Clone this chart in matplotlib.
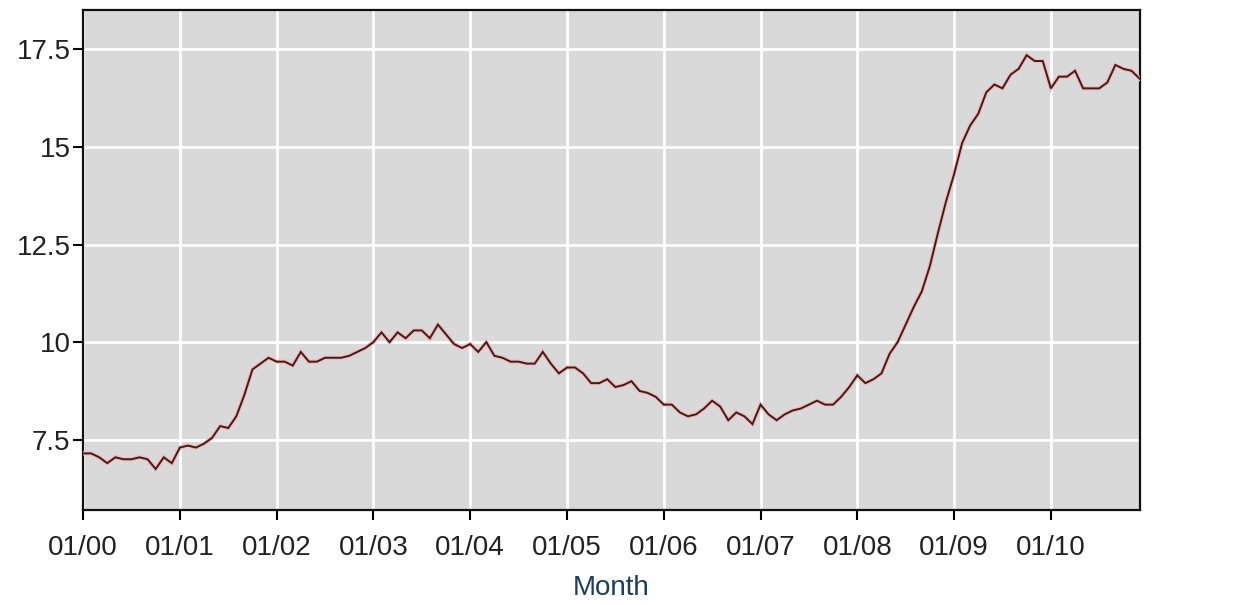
import matplotlib
matplotlib.use("Agg")
import matplotlib.pyplot as plt

# monthly rate, Jan 2000 .. Dec 2010
y2000 = [7.15, 7.15, 7.05, 6.9, 7.05, 7.0, 7.0, 7.05, 7.0, 6.75, 7.05, 6.9]
y2001 = [7.3, 7.35, 7.3, 7.4, 7.55, 7.85, 7.8, 8.1, 8.65, 9.3, 9.45, 9.6]
y2002 = [9.5, 9.5, 9.4, 9.75, 9.5, 9.5, 9.6, 9.6, 9.6, 9.65, 9.75, 9.85]
y2003 = [10.0, 10.25, 10.0, 10.25, 10.1, 10.3, 10.3, 10.1, 10.45, 10.2, 9.95, 9.85]
y2004 = [9.95, 9.75, 10.0, 9.65, 9.6, 9.5, 9.5, 9.45, 9.45, 9.75, 9.45, 9.2]
y2005 = [9.35, 9.35, 9.2, 8.95, 8.95, 9.05, 8.85, 8.9, 9.0, 8.75, 8.7, 8.6]
y2006 = [8.4, 8.4, 8.2, 8.1, 8.15, 8.3, 8.5, 8.35, 8.0, 8.2, 8.1, 7.9]
y2007 = [8.4, 8.15, 8.0, 8.15, 8.25, 8.3, 8.4, 8.5, 8.4, 8.4, 8.6, 8.85]
y2008 = [9.15, 8.95, 9.05, 9.2, 9.7, 10.0, 10.45, 10.9, 11.3, 11.95, 12.8, 13.6]
y2009 = [14.3, 15.1, 15.55, 15.85, 16.4, 16.6, 16.5, 16.85, 17.0, 17.35, 17.2, 17.2]
y2010 = [16.5, 16.8, 16.8, 16.95, 16.5, 16.5, 16.5, 16.65, 17.1, 17.0, 16.95, 16.75]

tick_labels = ["01/00", "01/01", "01/02", "01/03", "01/04", "01/05",
               "01/06", "01/07", "01/08", "01/09", "01/10"]
y_ticks = [7.5, 10, 12.5, 15, 17.5]
y_labels = ["7.5", "10", "12.5", "15", "17.5"]

values = (y2000 + y2001 + y2002 + y2003 + y2004 + y2005 + y2006
          + y2007 + y2008 + y2009 + y2010)
months = list(range(len(values)))

plt.rcParams["font.family"] = ["Liberation Sans", "DejaVu Sans"]

fig = plt.figure(figsize=(12.4, 6.05), dpi=100)
fig.patch.set_facecolor("white")
ax = fig.add_axes([0.067, 0.157, 0.852, 0.826])
ax.set_facecolor("#d9d9d9")

# soft pink halo under the dark line, like the jpeg original
ax.plot(months, values, color="#ebbcbc", lw=3.0, solid_joinstyle="miter", zorder=3)
ax.plot(months, values, color="#4a1616", lw=1.4, solid_joinstyle="miter", zorder=4)

ax.set_xlim(0, 131)
ax.set_ylim(5.7, 18.5)
ax.set_xticks(range(0, 121, 12))
ax.set_xticklabels(tick_labels)
ax.set_yticks(y_ticks)
ax.set_yticklabels(y_labels)

ax.grid(True, color="white", lw=2)
ax.set_axisbelow(True)
for s in ax.spines.values():
    s.set_linewidth(1.6)
    s.set_color("#111")
ax.tick_params(direction="out", length=7, width=1.5, labelsize=20,
               labelcolor="#222")
ax.tick_params(axis="x", pad=11)
ax.tick_params(axis="y", pad=2)

ax.set_xlabel("Month", fontsize=20, color="#1d3d5e", labelpad=10)

plt.savefig("out.png", dpi=100, facecolor="white")
plt.close()
